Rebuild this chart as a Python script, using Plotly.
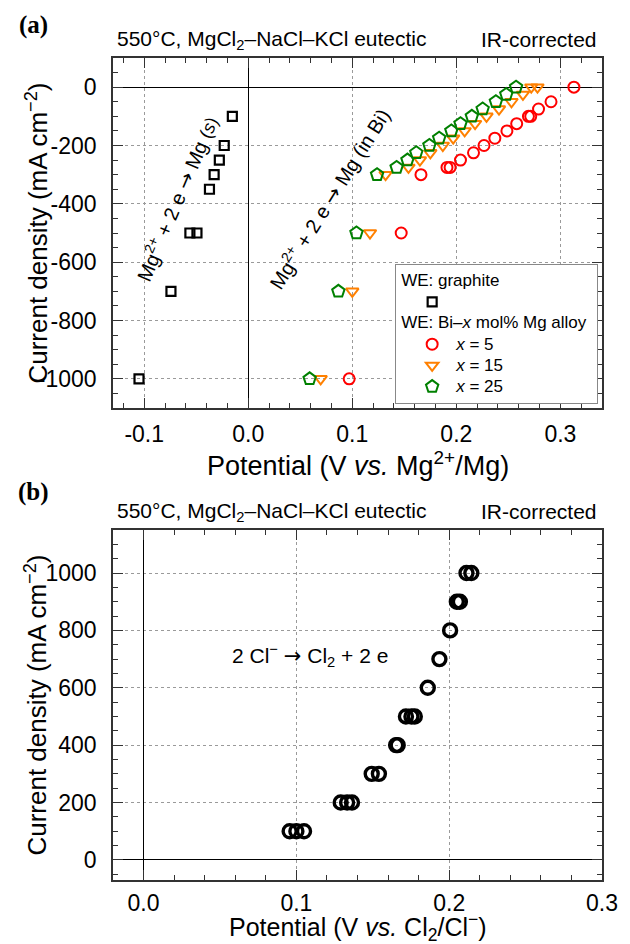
import plotly.graph_objects as go

# ---------------- Panel (a) data ----------------
graphite_x = [-0.0153, -0.0231, -0.0278, -0.0328, -0.0373, -0.0561, -0.0493, -0.0743, -0.105]
graphite_y = [-100, -200, -250, -300, -350, -500, -500, -700, -1000]

x5_x = [0.313, 0.291, 0.279, 0.2715, 0.2693, 0.258, 0.2486, 0.237, 0.2266, 0.2165, 0.204, 0.194, 0.191, 0.166, 0.147, 0.097]
x5_y = [0, -50, -75, -100, -100, -125, -150, -175, -200, -225, -250, -275, -275, -300, -500, -1000]

x15_x = [0.278, 0.272, 0.264, 0.253, 0.241, 0.229, 0.218, 0.208, 0.197, 0.187, 0.175, 0.165, 0.154, 0.132, 0.117, 0.100, 0.0696]
x15_y = [0, 0, -25, -50, -75, -100, -125, -150, -175, -200, -225, -250, -275, -300, -500, -700, -1000]

x25_x = [0.2574, 0.248, 0.238, 0.2253, 0.2149, 0.2040, 0.1952, 0.1835, 0.1741, 0.1615, 0.1530, 0.1426, 0.1238, 0.104, 0.0866, 0.059]
x25_y = [0, -25, -50, -75, -100, -125, -150, -175, -200, -225, -250, -275, -300, -500, -700, -1000]

# ---------------- Panel (b) data ----------------
cl_x = [0.0956, 0.1, 0.105, 0.129, 0.1332, 0.1364, 0.1493, 0.154, 0.1653, 0.1663,
        0.1717, 0.1753, 0.1775, 0.186, 0.1936, 0.2006, 0.205, 0.207, 0.2113, 0.2145]
cl_y = [100, 100, 100, 200, 200, 200, 300, 300, 400, 400,
        500, 500, 500, 600, 700, 800, 900, 900, 1000, 1000]

# ---------------- Tick labels ----------------
xa_tickvals = [-0.1, 0.0, 0.1, 0.2, 0.3]
xa_ticktext = ["-0.1", "0.0", "0.1", "0.2", "0.3"]
ya_tickvals = [0, -200, -400, -600, -800, -1000]
ya_ticktext = ["0", "-200", "-400", "-600", "-800", "-1000"]
xb_tickvals = [0.0, 0.1, 0.2, 0.3]
xb_ticktext = ["0.0", "0.1", "0.2", "0.3"]
yb_tickvals = [0, 200, 400, 600, 800, 1000]
yb_ticktext = ["0", "200", "400", "600", "800", "1000"]

FONT = "Liberation Sans, Arial, Helvetica, sans-serif"
SERIF = "Liberation Serif, Times New Roman, serif"
ARROW = "<span style='font-family:DejaVu Sans'>→</span>"


def lg(txt):
    # legend text rendered at 17px while row height follows the 14px legend font
    return "<span style='font-size:17px'>" + txt + "</span>"


fig = go.Figure()

fig.add_trace(go.Scatter(
    x=graphite_x, y=graphite_y, mode="markers", name="",
    legendgroup="g", legendgrouptitle=dict(text=lg("WE: graphite")),
    marker=dict(symbol="square-open", size=9, color="black", line=dict(width=2.2, color="black")),
    xaxis="x", yaxis="y"))
fig.add_trace(go.Scatter(
    x=x5_x, y=x5_y, mode="markers", name=lg("<i>x</i> = 5"),
    legendgroup="bi", legendgrouptitle=dict(text=lg("WE: Bi–<i>x</i> mol% Mg alloy")),
    marker=dict(symbol="circle-open", size=11, color="#ff0000", line=dict(width=2, color="#ff0000")),
    xaxis="x", yaxis="y"))
fig.add_trace(go.Scatter(
    x=x15_x, y=x15_y, mode="markers", name=lg("<i>x</i> = 15"),
    legendgroup="bi",
    marker=dict(symbol="triangle-down-open", size=11, color="#ff8000", line=dict(width=2, color="#ff8000")),
    xaxis="x", yaxis="y"))
fig.add_trace(go.Scatter(
    x=x25_x, y=x25_y, mode="markers", name=lg("<i>x</i> = 25"),
    legendgroup="bi",
    marker=dict(symbol="pentagon-open", size=13, color="#008000", line=dict(width=2, color="#008000")),
    xaxis="x", yaxis="y"))
fig.add_trace(go.Scatter(
    x=cl_x, y=cl_y, mode="markers", showlegend=False,
    marker=dict(symbol="circle-open", size=13, color="black", line=dict(width=3.4, color="black")),
    xaxis="x2", yaxis="y2"))

common_axis = dict(
    showline=True, linecolor="#333", linewidth=1.5, mirror="allticks",
    ticks="inside", ticklen=10, tickwidth=1.2, tickcolor="#333",
    showgrid=True, gridcolor="#9a9a9a", griddash="dot", gridwidth=1,
    zeroline=True, zerolinecolor="black", zerolinewidth=1.3,
    tickfont=dict(family=FONT, size=23, color="black"),
    minor=dict(ticks="inside", ticklen=5, tickwidth=1.2, tickcolor="#333", showgrid=False),
)

fig.update_layout(
    width=630, height=944, autosize=False,
    margin=dict(l=113, r=18, t=58, b=64),
    paper_bgcolor="white", plot_bgcolor="white",
    font=dict(family=FONT, size=21, color="black"),
    xaxis=dict(common_axis, domain=[0, 1], anchor="y", range=[-0.13, 0.34],
               tickmode="array", tickvals=xa_tickvals, ticktext=xa_ticktext,
               ticklabelstandoff=5),
    yaxis=dict(common_axis, domain=[0.5742, 1.0], anchor="x", range=[-1100, 100],
               tickmode="array", tickvals=ya_tickvals, ticktext=ya_ticktext,
               ticklabelstandoff=10),
    xaxis2=dict(common_axis, domain=[0, 1], anchor="y2", range=[-0.02, 0.3],
                tickmode="array", tickvals=xb_tickvals, ticktext=xb_ticktext,
                ticklabelstandoff=2),
    yaxis2=dict(common_axis, domain=[0.0, 0.4258], anchor="x2", range=[-70, 1150],
                tickmode="array", tickvals=yb_tickvals, ticktext=yb_ticktext,
                ticklabelstandoff=10),
    legend=dict(x=0.577, y=0.7494, xanchor="left", yanchor="top",
                bgcolor="white", bordercolor="#888", borderwidth=1,
                font=dict(family=FONT, size=14, color="black"),
                grouptitlefont=dict(family=FONT, size=14, color="black"),
                tracegroupgap=0, indentation=12, itemwidth=38),
)

fig.update_xaxes(minor_dtick=0.02, minor_tick0=0)
fig.update_yaxes(minor_dtick=50, minor_tick0=0)

ann = []
# panel labels
ann.append(dict(text="<b>(a)</b>", xref="paper", yref="paper", x=-0.1623, y=1.0401,
                showarrow=False, xanchor="center", yanchor="middle",
                font=dict(family=SERIF, size=25, color="black")))
ann.append(dict(text="<b>(b)</b>", xref="paper", yref="paper", x=-0.1623, y=0.472,
                showarrow=False, xanchor="center", yanchor="middle",
                font=dict(family=SERIF, size=25, color="black")))
# header texts
for yy in (1.0219, 0.4477):
    ann.append(dict(text="550°C, MgCl<sub>2</sub>–NaCl–KCl eutectic", xref="paper", yref="paper",
                    x=0.004, y=yy, showarrow=False, xanchor="left", yanchor="middle",
                    font=dict(family=FONT, size=21)))
    ann.append(dict(text="IR-corrected", xref="paper", yref="paper",
                    x=0.994, y=yy, showarrow=False, xanchor="right", yanchor="middle",
                    font=dict(family=FONT, size=21)))
# axis titles
ann.append(dict(text="Current density (mA cm<sup>−2</sup>)", xref="paper", yref="paper",
                x=-0.1563, y=(0.5742 + 1.0) / 2, textangle=-90, showarrow=False,
                xanchor="center", yanchor="middle", font=dict(family=FONT, size=26)))
ann.append(dict(text="Current density (mA cm<sup>−2</sup>)", xref="paper", yref="paper",
                x=-0.1563, y=0.4258 / 2, textangle=-90, showarrow=False,
                xanchor="center", yanchor="middle", font=dict(family=FONT, size=26)))
ann.append(dict(text="Potential (V <i>vs.</i> Mg<sup>2+</sup>/Mg)", xref="paper", yref="paper",
                x=0.5, y=(880 - 464) / 822, showarrow=False,
                xanchor="center", yanchor="middle", font=dict(family=FONT, size=27)))
ann.append(dict(text="Potential (V <i>vs.</i> Cl<sub>2</sub>/Cl<sup>−</sup>)", xref="paper", yref="paper",
                x=0.5, y=(880 - 927) / 822, showarrow=False,
                xanchor="center", yanchor="middle", font=dict(family=FONT, size=25)))
# in-plot annotations
ann.append(dict(text="Mg<sup>2+</sup> + 2 e " + ARROW + " Mg <span style='font-size:18px'>(<i>s</i>)</span>",
                xref="x", yref="y", x=-0.0688, y=-381, textangle=-67, showarrow=False,
                xanchor="center", yanchor="middle", font=dict(family=FONT, size=20)))
ann.append(dict(text="Mg<sup>2+</sup> + 2 e " + ARROW + " Mg (in Bi)",
                xref="x", yref="y", x=0.0778, y=-381, textangle=-58, showarrow=False,
                xanchor="center", yanchor="middle", font=dict(family=FONT, size=20)))
ann.append(dict(text="2 Cl<sup>−</sup> " + ARROW + " Cl<sub>2</sub> + 2 e",
                xref="x2", yref="y2", x=0.109, y=712, showarrow=False,
                xanchor="center", yanchor="middle", font=dict(family=FONT, size=21)))
fig.update_layout(annotations=ann)

fig.write_html("out.html", config={"displayModeBar": False},
               post_script="document.body.style.margin='0';document.body.style.overflow='hidden';")
